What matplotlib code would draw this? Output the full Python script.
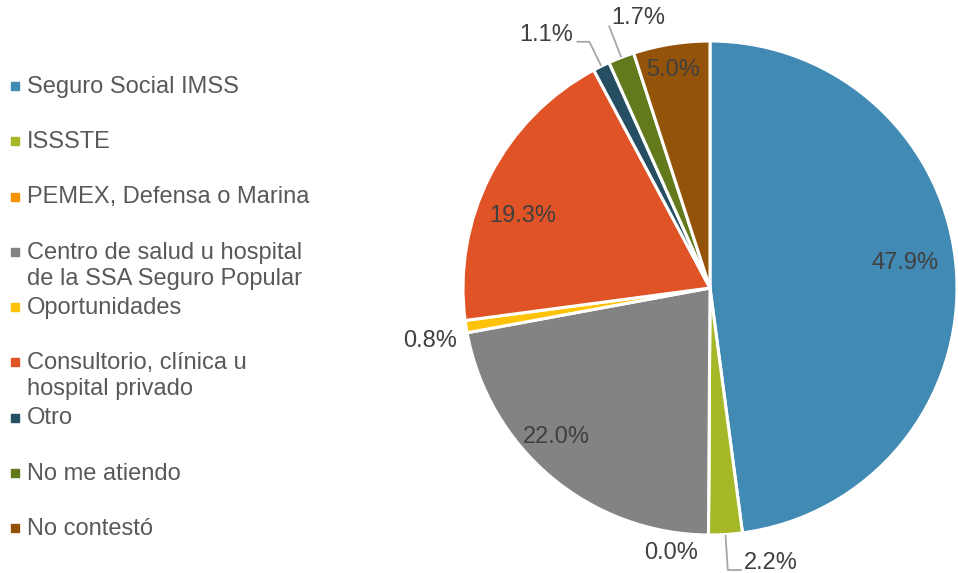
# -*- coding: utf-8 -*-
import numpy as np
import matplotlib.pyplot as plt

plt.rcParams['font.family'] = ['Liberation Sans', 'DejaVu Sans']

# Data
categories = ['Seguro Social IMSS', 'ISSSTE', 'PEMEX, Defensa o Marina',
              'Centro de salud u hospital\nde la SSA Seguro Popular', 'Oportunidades',
              'Consultorio, clínica u\nhospital privado', 'Otro', 'No me atiendo',
              'No contestó']
values = [47.9, 2.2, 0.0, 22.0, 0.8, 19.3, 1.1, 1.7, 5.0]
colors = ['#418AB3', '#A6B727', '#F69200', '#838383', '#FEC306',
          '#DF5327', '#254E63', '#637A1C', '#935309']

# label placement: (radius, angle offset in degrees, leader elbow radius or None, horizontal run)
label_style = [(0.796, 3.5, None, 0), (1.10, 8, 1.144, 0.053), (1.085, -8, None, 0),
               (0.864, -5.9, None, 0), (1.153, 1.8, None, 0), (0.81, 6.2, None, 0),
               (1.20, 1, 1.11, -0.048), (1.16, -7, 1.135, 0), (0.895, 0.6, None, 0)]

fig = plt.figure(figsize=(9.58, 5.73), dpi=100)
ax = fig.add_axes([463 / 958, 38 / 573, 494 / 958, 494 / 573])
wedges, _ = ax.pie(values, colors=colors, startangle=90, counterclock=False,
                   radius=1.0, wedgeprops=dict(edgecolor='white', linewidth=2.2))
ax.set_xlim(-1, 1)
ax.set_ylim(-1, 1)
ax.set_aspect('equal')
ax.axis('off')

fs = 17
for w, v, (r, dth, elbow, run) in zip(wedges, values, label_style):
    mid = np.deg2rad((w.theta1 + w.theta2) / 2)
    txt = f'{v:.1f}%'
    if elbow is not None:
        p0 = np.array([np.cos(mid), np.sin(mid)]) * 1.005
        p1 = np.array([np.cos(mid), np.sin(mid)]) * elbow
        p2 = p1 + np.array([run, 0])
        ax.plot([p0[0], p1[0], p2[0]], [p0[1], p1[1], p2[1]], color='#A6A6A6',
                lw=1.3, clip_on=False, zorder=1)
        if run > 0:
            ax.text(p2[0] + 0.012, p2[1] + 0.028, txt, ha='left', va='center',
                    fontsize=fs, color='#404040', clip_on=False)
        elif run < 0:
            ax.text(p2[0] - 0.016, p2[1] + 0.028, txt, ha='right', va='center',
                    fontsize=fs, color='#404040', clip_on=False)
        else:
            ax.text(p1[0] + 0.01, p1[1] + 0.035, txt, ha='left', va='center',
                    fontsize=fs, color='#404040', clip_on=False)
    else:
        a = mid + np.deg2rad(dth)
        ax.text(r * np.cos(a), r * np.sin(a), txt, ha='center', va='center',
                fontsize=fs, color='#404040', clip_on=False)

# Legend drawn by hand, first line of each entry on a regular grid
for i, (cat, c) in enumerate(zip(categories, colors)):
    y = 1 - (85 + 55.25 * i) / 573
    fig.patches.append(plt.Rectangle((11 / 958, y - 5 / 573), 8 / 958, 8 / 573,
                                     transform=fig.transFigure, color=c))
    fig.text(27 / 958, y + 9 / 573, cat, ha='left', va='top', fontsize=fs,
             color='#595959', linespacing=1.25)

plt.savefig('out.png', dpi=100)
